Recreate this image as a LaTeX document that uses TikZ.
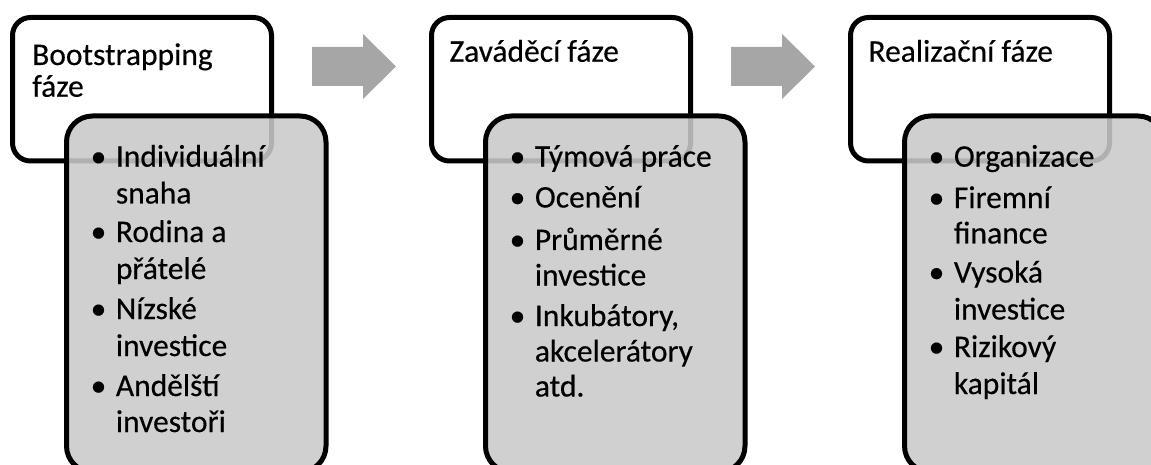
\documentclass[tikz,border=0pt]{standalone}
\usepackage{fontspec}
\setmainfont{Carlito}[RawFeature={embolden=0.35}]
\definecolor{bodygrey}{HTML}{C9C9C9}
\definecolor{arrowgrey}{HTML}{A6A6A6}
\begin{document}
\begin{tikzpicture}[x=1pt,y=-1pt,
  headbox/.style={draw=black, line width=5pt, fill=white, rounded corners=18pt,
    minimum width=259pt, minimum height=143.5pt, inner sep=0pt},
  bodybox/.style={draw=black, line width=5pt, fill=bodygrey, fill opacity=0.88,
    rounded corners=26pt, minimum width=259.5pt, minimum height=356pt, inner sep=0pt},
  flow/.style={fill=arrowgrey, draw=none},
  txt/.style={inner sep=0pt, anchor=base west, font=\fontsize{31.5}{37}\selectfont},
  bul/.style={inner sep=0pt, anchor=base, font=\fontsize{31.5}{37}\selectfont}]
\clip (0,0) rectangle (1151,465);

% phase boxes: white title card with a grey list card on top
\foreach \g in {1,2,3}{
  \pgfmathsetmacro{\dx}{(\g-1)*419}
  \node[headbox] (h\g) at (142+\dx, 89.25) {};
  \node[bodybox] (b\g) at (196.25+\dx, 294) {};
}

% block arrows between the phases
\foreach \a in {1,2}{
  \pgfmathsetmacro{\dx}{(\a-1)*419}
  \coordinate (ar\a) at (312+\dx, 66.5);
  \fill[flow] (ar\a) ++(0,-19.5) -- ++(51,0) -- ++(0,-13) -- ++(33,32.5)
     -- ++(-33,32.5) -- ++(0,-13) -- ++(-51,0) -- cycle;
}

% titles
\node[txt] (h1a) at (32,65) {Bootstrapping};
\node[txt] (h1b) at (32,96.7) {fáze};
\node[txt] (h2a) at (449.3,61.7) {Zaváděcí fáze};
\node[txt] (h3a) at (868.3,61.7) {Realizační fáze};

% phase 1 list
\foreach \y [count=\i] in {166.7,242,319,396}
  \node[bul] (d1-\i) at (98.5,\y) {•};
\foreach \t/\y [count=\i] in {Individuální/166.7, snaha/203.5, Rodina a/242,
    přátelé/279, Nízské/319, investice/356, Andělští/396, investoři/432}
  \node[txt] (l1-\i) at (115.7,\y) {\t};

% phase 2 list
\foreach \y [count=\i] in {166.7,207.5,250,326}
  \node[bul] (d2-\i) at (517.5,\y) {•};
\foreach \t/\y [count=\i] in {Týmová práce/166.7, Ocenění/207.5, Průměrné/250,
    investice/285.5, {Inkubátory,}/326, akcelerátory/361.5, atd./396.5}
  \node[txt] (l2-\i) at (534.7,\y) {\t};

% phase 3 list
\foreach \y [count=\i] in {166.7,208,282.5,357}
  \node[bul] (d3-\i) at (936.5,\y) {•};
\foreach \t/\y [count=\i] in {Organizace/166.7, Firemní/208, finance/243.5,
    Vysoká/282.5, investice/319.5, Rizikový/357, kapitál/394}
  \node[txt] (l3-\i) at (953.7,\y) {\t};
\end{tikzpicture}
\end{document}
